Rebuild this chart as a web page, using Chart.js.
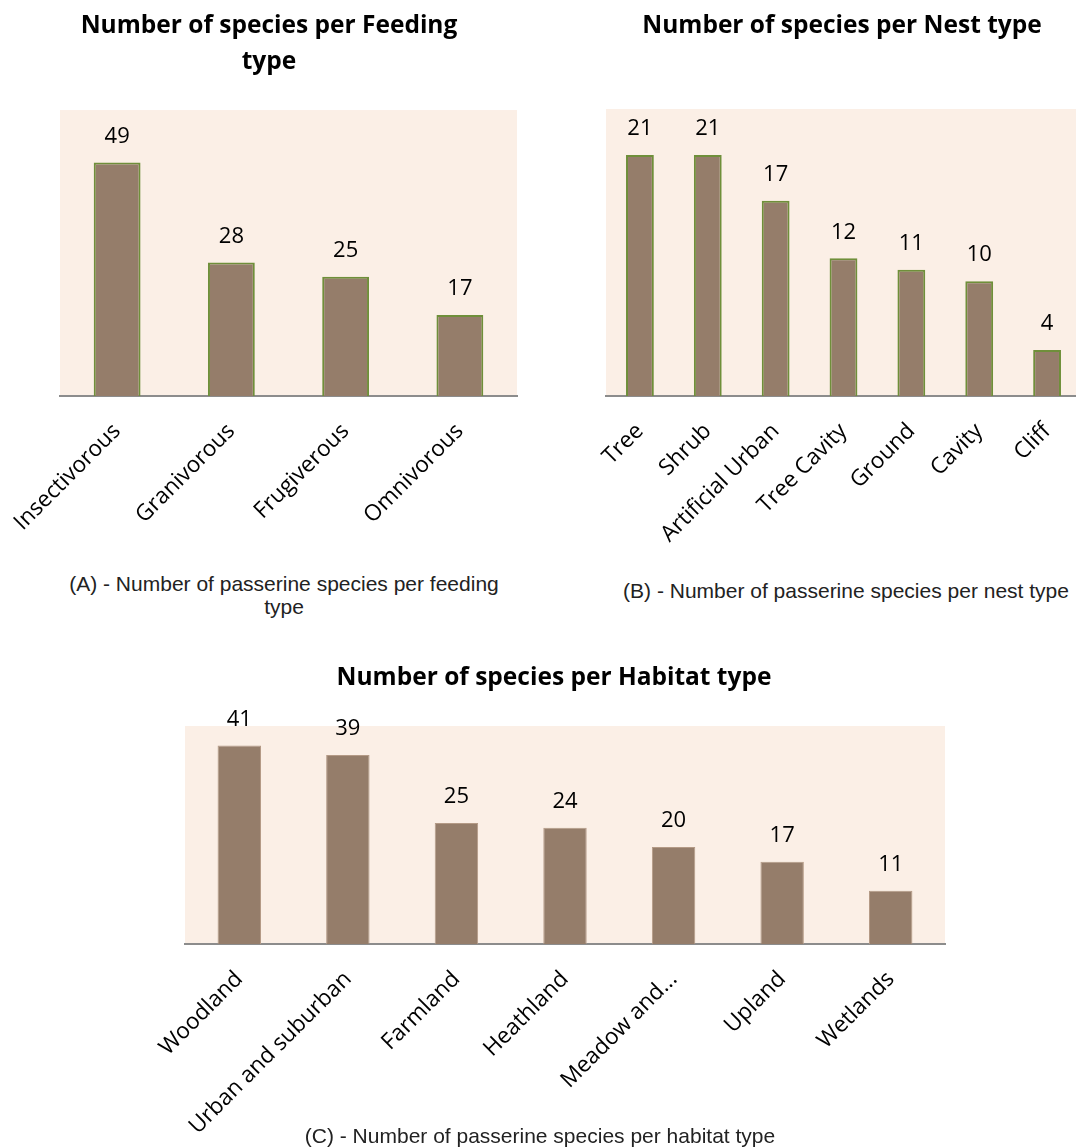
<!DOCTYPE html>
<html>
<head>
<meta charset="utf-8">
<script src="https://cdn.jsdelivr.net/npm/chart.js@4.4.1/dist/chart.umd.min.js"></script>
<style>
    html, body { margin: 0; padding: 0; background: #fff; overflow: hidden; }
    body { width: 1076px; height: 1148px; position: relative; }
    canvas { position: absolute; }
    .caption {
        position: absolute;
        font-family: "Liberation Sans", Arial, sans-serif;
        font-size: 21px;
        line-height: 23px;
        color: #222;
        text-align: center;
        white-space: nowrap;
    }
</style>
</head>
<body>
<canvas id="feedingChart" style="left:0px; top:0px; width:540px; height:560px;"></canvas>
<canvas id="nestChart" style="left:540px; top:0px; width:541px; height:560px;"></canvas>
<canvas id="habitatChart" style="left:0px; top:640px; width:1076px; height:508px;"></canvas>

<div class="caption" style="left:44px; width:480px; top:572px;">(A) - Number of passerine species per feeding<br>type</div>
<div class="caption" style="left:606px; width:480px; top:579px;">(B) - Number of passerine species per nest type</div>
<div class="caption" style="left:290px; width:500px; top:1124px;">(C) - Number of passerine species per habitat type</div>

<script>
// feeding types
var feedingLabels = ['Insectivorous', 'Granivorous', 'Frugiverous', 'Omnivorous'];
var feedingCounts = [49, 28, 25, 17];

// nest types
var nestLabels = ['Tree', 'Shrub', 'Artificial Urban', 'Tree Cavity', 'Ground', 'Cavity', 'Cliff'];
var nestCounts = [21, 21, 17, 12, 11, 10, 4];

// habitat types
var habitatLabels = ['Woodland', 'Urban and suburban', 'Farmland', 'Heathland', 'Meadow and...', 'Upland', 'Wetlands'];
var habitatCounts = [41, 39, 25, 24, 20, 17, 11];

var barColor = '#957d6a';
var plotBg = '#fbefe6';
var axisColor = '#8c8c8c';
var fontName = '"Open Sans"';

// shade the plot area
var plotBackground = {
    id: 'plotBackground',
    beforeDraw: function(chart) {
        var a = chart.chartArea;
        var ctx = chart.ctx;
        ctx.save();
        ctx.fillStyle = plotBg;
        ctx.fillRect(a.left, a.top, a.right - a.left, a.bottom - a.top);
        ctx.restore();
    }
};

// value above every bar
var barValues = {
    id: 'barValues',
    afterDatasetsDraw: function(chart) {
        var ctx = chart.ctx;
        var meta = chart.getDatasetMeta(0);
        var values = chart.data.datasets[0].data;
        ctx.save();
        ctx.font = '22px ' + fontName;
        ctx.fillStyle = '#000';
        ctx.textAlign = 'center';
        ctx.textBaseline = 'middle';
        meta.data.forEach(function(bar, i) {
            ctx.fillText(values[i], bar.x, bar.y - 26);
        });
        ctx.restore();
    }
};

function makeChart(id, labels, counts, opts) {
    var ctx = document.getElementById(id).getContext('2d');
    return new Chart(ctx, {
        type: 'bar',
        data: {
            labels: labels,
            datasets: [{
                data: counts,
                backgroundColor: barColor,
                borderColor: opts.borderColor,
                borderWidth: opts.borderWidth,
                borderSkipped: 'bottom',
                categoryPercentage: 1,
                barPercentage: opts.barPct
            }]
        },
        options: {
            responsive: false,
            animation: false,
            events: [],
            layout: {
                padding: { left: opts.padLeft, right: opts.padRight, top: 0, bottom: 0 }
            },
            scales: {
                x: {
                    grid: { display: false },
                    border: { display: true, color: axisColor, width: 2 },
                    ticks: {
                        autoSkip: false,
                        minRotation: 45,
                        maxRotation: 45,
                        padding: opts.tickPad,
                        color: '#000',
                        font: { family: fontName, size: 22.5 }
                    },
                    afterFit: function(scale) {
                        // fixed axis band; let the slanted labels hang past the plot edge
                        scale.height = opts.axisHeight;
                        scale.paddingLeft = 0;
                        scale.paddingRight = 0;
                    }
                },
                y: {
                    min: 0,
                    max: opts.yMax,
                    grid: { display: false },
                    border: { display: false },
                    ticks: { display: false },
                    afterFit: function(scale) { scale.width = opts.yWidth; }
                }
            },
            plugins: {
                legend: { display: false },
                tooltip: { enabled: false },
                title: {
                    display: true,
                    text: opts.title,
                    color: '#000',
                    font: { family: fontName, size: 24.5, weight: 'bold', lineHeight: opts.titleLine },
                    padding: { top: opts.titleTop, bottom: opts.titleBottom }
                }
            }
        },
        plugins: [plotBackground, barValues]
    });
}

makeChart('feedingChart', feedingLabels, feedingCounts, {
    title: ['Number of species per Feeding', 'type'],
    titleLine: 1.45, titleTop: 8.5, titleBottom: 30.5,
    padLeft: 21, padRight: 23, yWidth: 39,
    yMax: 60, axisHeight: 164, tickPad: 14,
    barPct: 0.41, borderColor: '#6f8f3a', borderWidth: 2
});

makeChart('nestChart', nestLabels, nestCounts, {
    title: 'Number of species per Nest type',
    titleLine: 1.2, titleTop: 11.3, titleBottom: 68.3,
    padLeft: 63, padRight: 0, yWidth: 3,
    yMax: 25, axisHeight: 164, tickPad: 14,
    barPct: 0.41, borderColor: '#6f8f3a', borderWidth: 2
});

makeChart('habitatChart', habitatLabels, habitatCounts, {
    title: 'Number of species per Habitat type',
    titleLine: 1.2, titleTop: 23.3, titleBottom: 33.3,
    padLeft: 163, padRight: 131, yWidth: 22,
    yMax: 45, axisHeight: 204, tickPad: 14,
    barPct: 0.40, borderColor: '#b49a86', borderWidth: 1
});
</script>
</body>
</html>
